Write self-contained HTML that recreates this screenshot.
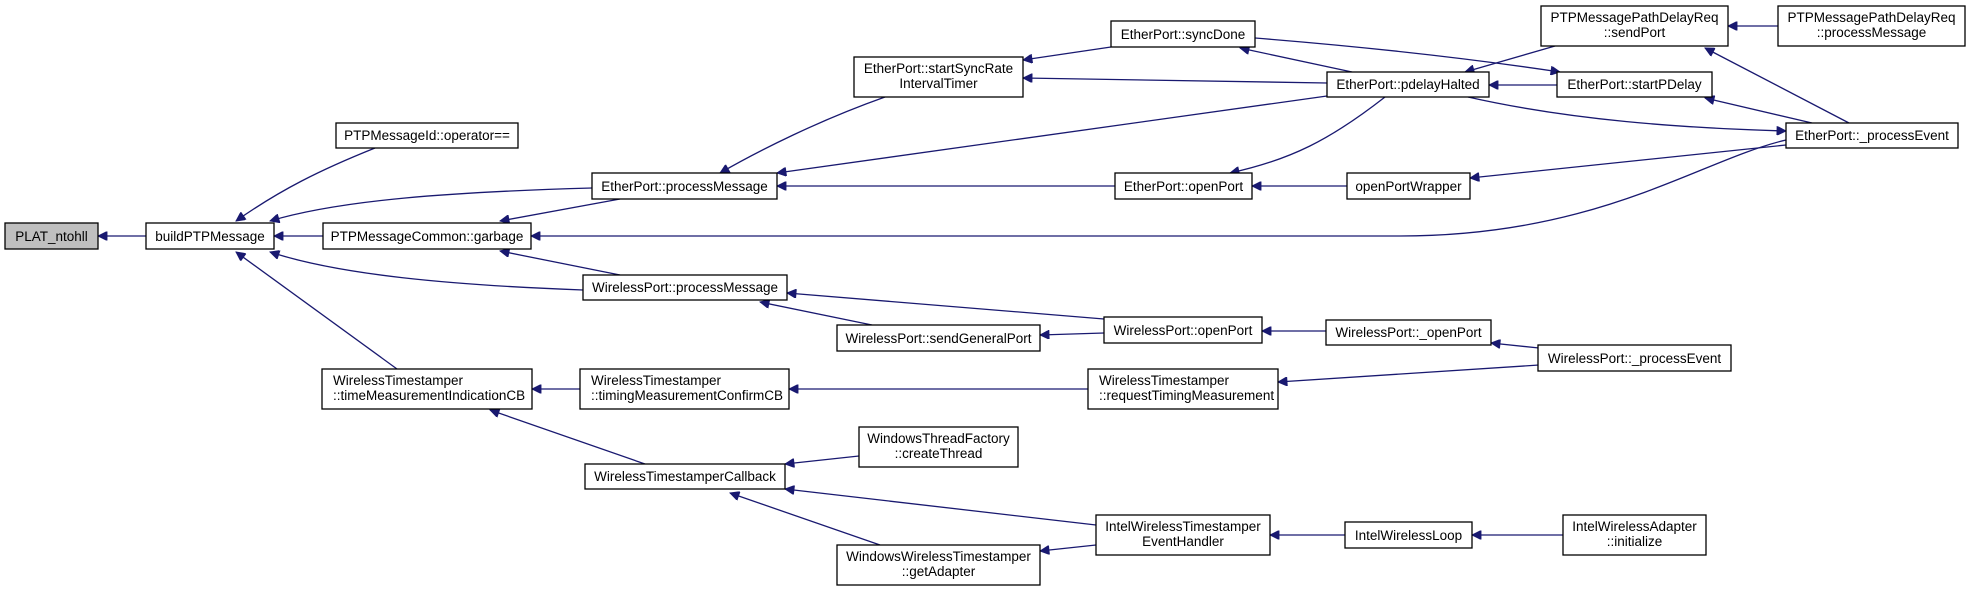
<!DOCTYPE html>
<html><head><meta charset="utf-8"><style>
html,body{margin:0;padding:0;background:#fff;}
svg{display:block;}
text{font-family:"Liberation Sans",sans-serif;font-size:13.5px;fill:#000;}
rect{fill:#fff;stroke:#000;stroke-width:1.3;}
path{fill:none;stroke:#191970;stroke-width:1.3;}
</style></head><body>
<svg width="1971" height="591" viewBox="0 0 1971 591" xmlns="http://www.w3.org/2000/svg">
<defs><marker id="a" viewBox="0 0 10 10" refX="10" refY="5" markerWidth="11" markerHeight="9" markerUnits="userSpaceOnUse" orient="auto"><path d="M0,0 L10,5 L0,10 Z" style="fill:#191970;stroke:#191970;stroke-width:1"/></marker></defs>
<g marker-end="url(#a)">
<path d="M146,236 L98,236"/>
<path d="M375,148 C320,170 280,190 236,221"/>
<path d="M592,188 C450,192 340,200 270,221"/>
<path d="M323,236 L274,236"/>
<path d="M583,290 C450,285 340,275 270,252"/>
<path d="M397,369 L236,252"/>
<path d="M620,199 L500,221"/>
<path d="M620,275 L500,251"/>
<path d="M1786,140 C1700,160 1600,236 1400,236 L531,236"/>
<path d="M885,97 C820,120 760,150 720,173"/>
<path d="M1327,96 L777,173"/>
<path d="M1115,186 L777,186"/>
<path d="M1111,47 L1023,60"/>
<path d="M1327,83 L1023,78"/>
<path d="M1352,72 L1240,48"/>
<path d="M1255,38 C1380,48 1480,60 1560,72"/>
<path d="M1555,46 L1465,72"/>
<path d="M1557,85 L1489,85"/>
<path d="M1468,97 C1570,120 1680,128 1786,131"/>
<path d="M1385,97 C1330,140 1290,160 1230,173"/>
<path d="M1347,186 L1252,186"/>
<path d="M1786,145 L1470,178"/>
<path d="M1778,26 L1728,26"/>
<path d="M1849,123 L1705,48"/>
<path d="M1812,123 L1705,98"/>
<path d="M1104,319 L787,293"/>
<path d="M872,325 L760,302"/>
<path d="M1104,333 L1040,335"/>
<path d="M1326,331 L1262,331"/>
<path d="M1539,348 L1491,343"/>
<path d="M1539,365 L1278,382"/>
<path d="M1088,389 L789,389"/>
<path d="M580,389 L532,389"/>
<path d="M645,464 L490,410"/>
<path d="M859,456 L785,464"/>
<path d="M1096,525 L785,489"/>
<path d="M880,545 L730,493"/>
<path d="M1096,545 L1040,551"/>
<path d="M1345,535 L1270,535"/>
<path d="M1563,535 L1472,535"/>
</g>
<g>
<rect x="5" y="223" width="93" height="26" style="fill:#bfbfbf"/><text x="51.5" y="241" text-anchor="middle">PLAT_ntohll</text>
<rect x="146" y="223" width="128" height="26"/><text x="210" y="241" text-anchor="middle">buildPTPMessage</text>
<rect x="336" y="123" width="182" height="25"/><text x="427" y="140" text-anchor="middle">PTPMessageId::operator==</text>
<rect x="323" y="223" width="208" height="26"/><text x="427" y="241" text-anchor="middle">PTPMessageCommon::garbage</text>
<rect x="592" y="173" width="185" height="26"/><text x="684.5" y="191" text-anchor="middle">EtherPort::processMessage</text>
<rect x="583" y="275" width="204" height="25"/><text x="685" y="292" text-anchor="middle">WirelessPort::processMessage</text>
<rect x="322" y="369" width="210" height="40"/><text x="333" y="385">WirelessTimestamper</text><text x="333" y="400">::timeMeasurementIndicationCB</text>
<rect x="580" y="369" width="209" height="40"/><text x="591" y="385">WirelessTimestamper</text><text x="591" y="400">::timingMeasurementConfirmCB</text>
<rect x="585" y="464" width="200" height="25"/><text x="685" y="481" text-anchor="middle">WirelessTimestamperCallback</text>
<rect x="854" y="57" width="169" height="40"/><text x="938.5" y="73" text-anchor="middle">EtherPort::startSyncRate</text><text x="938.5" y="88" text-anchor="middle">IntervalTimer</text>
<rect x="1111" y="21" width="144" height="26"/><text x="1183" y="39" text-anchor="middle">EtherPort::syncDone</text>
<rect x="1327" y="72" width="162" height="25"/><text x="1408" y="89" text-anchor="middle">EtherPort::pdelayHalted</text>
<rect x="1115" y="173" width="137" height="26"/><text x="1183.5" y="191" text-anchor="middle">EtherPort::openPort</text>
<rect x="1347" y="173" width="123" height="26"/><text x="1408.5" y="191" text-anchor="middle">openPortWrapper</text>
<rect x="1541" y="6" width="187" height="40"/><text x="1634.5" y="22" text-anchor="middle">PTPMessagePathDelayReq</text><text x="1634.5" y="37" text-anchor="middle">::sendPort</text>
<rect x="1778" y="6" width="187" height="40"/><text x="1871.5" y="22" text-anchor="middle">PTPMessagePathDelayReq</text><text x="1871.5" y="37" text-anchor="middle">::processMessage</text>
<rect x="1557" y="72" width="155" height="25"/><text x="1634.5" y="89" text-anchor="middle">EtherPort::startPDelay</text>
<rect x="1786" y="123" width="172" height="25"/><text x="1872" y="140" text-anchor="middle">EtherPort::_processEvent</text>
<rect x="837" y="325" width="203" height="26"/><text x="938.5" y="343" text-anchor="middle">WirelessPort::sendGeneralPort</text>
<rect x="1104" y="317" width="158" height="26"/><text x="1183" y="335" text-anchor="middle">WirelessPort::openPort</text>
<rect x="1326" y="320" width="165" height="25"/><text x="1408.5" y="337" text-anchor="middle">WirelessPort::_openPort</text>
<rect x="1538" y="345" width="193" height="26"/><text x="1634.5" y="363" text-anchor="middle">WirelessPort::_processEvent</text>
<rect x="1088" y="369" width="190" height="40"/><text x="1099" y="385">WirelessTimestamper</text><text x="1099" y="400">::requestTimingMeasurement</text>
<rect x="859" y="427" width="159" height="40"/><text x="938.5" y="443" text-anchor="middle">WindowsThreadFactory</text><text x="938.5" y="458" text-anchor="middle">::createThread</text>
<rect x="1096" y="515" width="174" height="40"/><text x="1183" y="531" text-anchor="middle">IntelWirelessTimestamper</text><text x="1183" y="546" text-anchor="middle">EventHandler</text>
<rect x="1345" y="522" width="127" height="26"/><text x="1408.5" y="540" text-anchor="middle">IntelWirelessLoop</text>
<rect x="837" y="545" width="203" height="40"/><text x="938.5" y="561" text-anchor="middle">WindowsWirelessTimestamper</text><text x="938.5" y="576" text-anchor="middle">::getAdapter</text>
<rect x="1563" y="515" width="143" height="40"/><text x="1634.5" y="531" text-anchor="middle">IntelWirelessAdapter</text><text x="1634.5" y="546" text-anchor="middle">::initialize</text>
</g>
</svg>
</body></html>
